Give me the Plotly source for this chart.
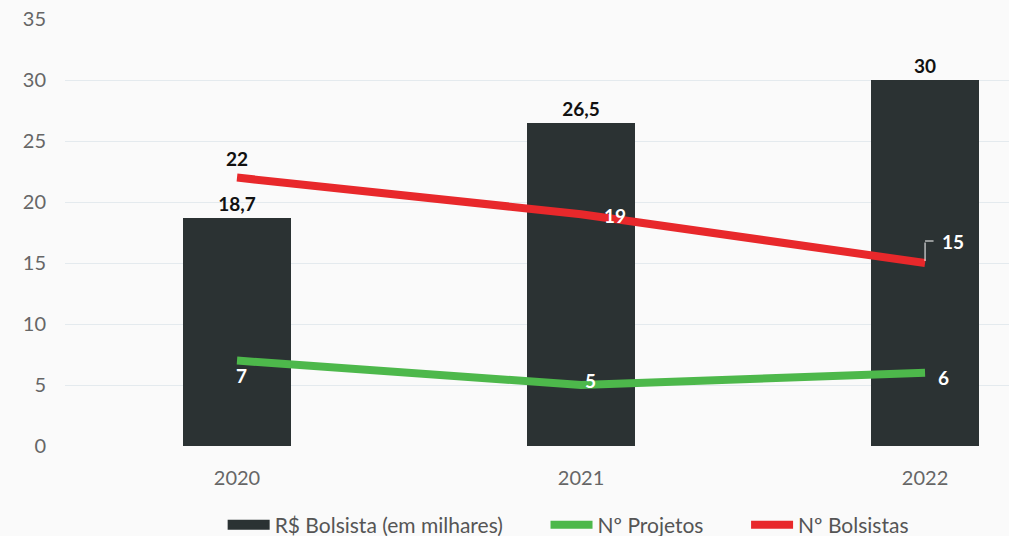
import plotly.graph_objects as go

anos = ["2020", "2021", "2022"]
rs_bolsista = [18.7, 26.5, 30]
n_projetos = [7, 5, 6]
n_bolsistas = [22, 19, 15]
rs_labels = ["18,7", "26,5", "30"]
y_ticks = [0, 5, 10, 15, 20, 25, 30, 35]

xs = list(range(len(anos)))
FONT = "Lato, 'Open Sans', sans-serif"
BAR_C = "#2b3233"
GREEN = "#4db84b"
RED = "#e8282b"
PAD = "\u00a0" * 7

fig = go.Figure()
fig.add_trace(go.Bar(
    x=xs, y=rs_bolsista, name="R$ Bolsista (em milhares)", showlegend=False,
    marker=dict(color=BAR_C, line=dict(width=0)), width=0.315,
    text=rs_labels, textposition="outside", cliponaxis=False,
    textfont=dict(family=FONT, size=19, color="#111111", weight="bold"),
))
# legend stand-in for the bar series (wide rectangle symbol)
fig.add_trace(go.Scatter(
    x=[None], y=[None], name="R$ Bolsista (em milhares)" + PAD, mode="lines",
    line=dict(color=BAR_C, width=13),
))
fig.add_trace(go.Scatter(
    x=xs, y=n_projetos, name="Nº Projetos" + PAD, mode="lines",
    line=dict(color=GREEN, width=8),
))
fig.add_trace(go.Scatter(
    x=xs, y=n_bolsistas, name="Nº Bolsistas", mode="lines",
    line=dict(color=RED, width=8),
))

# line labels
green_off = [(4, -15), (9, 5), (18, -5)]
for x, v, (dx, dy) in zip(xs, n_projetos, green_off):
    fig.add_annotation(x=x, y=v, text=f"<b>{v}</b>", showarrow=False,
                       xshift=dx, yshift=dy,
                       font=dict(family=FONT, size=19, color="white"))
red_cfg = [(0, 19, "#111111"), (34, -1, "white")]
for x, v, (dx, dy, c) in zip(xs[:2], n_bolsistas[:2], red_cfg):
    fig.add_annotation(x=x, y=v, text=f"<b>{v}</b>", showarrow=False,
                       xshift=dx, yshift=dy,
                       font=dict(family=FONT, size=19, color=c))
# leader line + label for the last point
fig.add_annotation(x=xs[2], y=n_bolsistas[2], text="", showarrow=True,
                   arrowhead=0, arrowwidth=1, arrowcolor="white",
                   ax=0, ay=-22, standoff=2)
fig.add_annotation(x=xs[2], y=n_bolsistas[2], text="", showarrow=True,
                   arrowhead=0, arrowwidth=1, arrowcolor="white",
                   ax=10, ay=0, xshift=0, yshift=22)
fig.add_annotation(x=xs[2], y=n_bolsistas[2], text=f"<b>{n_bolsistas[2]}</b>",
                   showarrow=False, xanchor="left", xshift=15, yshift=22,
                   font=dict(family=FONT, size=19, color="white"))

fig.update_layout(
    width=1009, height=536,
    margin=dict(l=65, r=0, t=19, b=90, autoexpand=False),
    paper_bgcolor="#fafafa", plot_bgcolor="#fafafa",
    font=dict(family=FONT, color="#666666", size=19),
    showlegend=True,
    legend=dict(orientation="h", x=0.533, xanchor="center", y=-0.185, yanchor="middle",
                font=dict(family=FONT, size=21, color="#555555"),
                itemwidth=42, traceorder="normal", bgcolor="rgba(0,0,0,0)"),
    bargap=0,
)
fig.update_xaxes(range=[-0.5, 2.244], tickvals=xs, ticktext=anos,
                 showgrid=False, zeroline=False, showline=False, ticks="",
                 tickfont=dict(size=20, color="#666666"), ticklabelstandoff=18)
fig.update_yaxes(range=[0, 35], tickvals=y_ticks, showgrid=True,
                 gridcolor="#e4eaee", gridwidth=1, zeroline=False,
                 tickfont=dict(size=20, color="#666666"), ticklabelstandoff=18)

fig.write_html("out.html", config={"displayModeBar": False},
               post_script="document.body.style.margin='0';document.body.style.background='#fafafa';")
